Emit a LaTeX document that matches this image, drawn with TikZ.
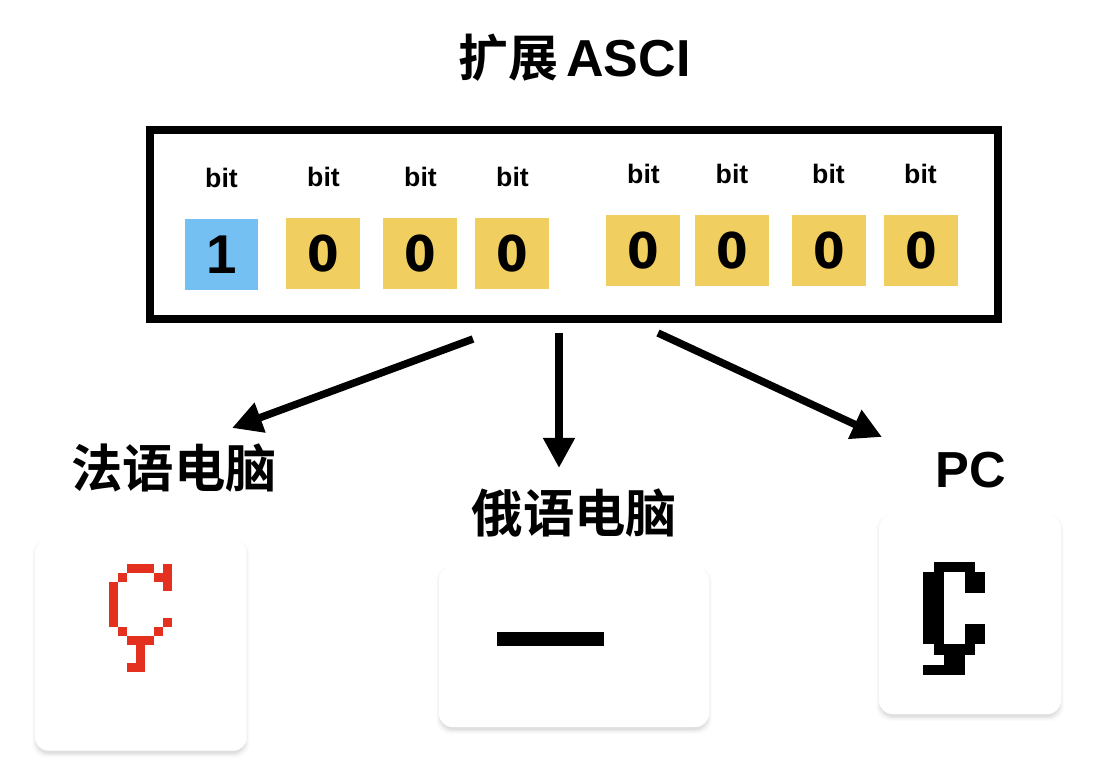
\documentclass[tikz,border=0pt]{standalone}
\usepackage{fontspec}
\setmainfont{Liberation Sans}
\newfontfamily\cjkbold{Noto Sans CJK SC Bold}
\newfontfamily\zerofont[FakeStretch=0.92]{DejaVu Sans Bold}
\usetikzlibrary{arrows.meta}
\definecolor{bitblue}{HTML}{74C0F2}
\definecolor{bityellow}{HTML}{F0CE5F}
\definecolor{glyphred}{HTML}{E3301F}
\tikzset{
  x=0.75pt,y=-0.75pt,
  frame/.style={draw=black,line width=6pt,fill=white},
  bitlabel/.style={font=\fontsize{20}{21}\selectfont\bfseries,text=black,inner sep=0pt,anchor=base},
  bluecell/.style={font=\fontsize{41}{42}\selectfont\bfseries,text=black,inner sep=0pt,minimum width=54.75pt,minimum height=53.25pt,fill=bitblue},
  yellowcell/.style={font=\fontsize{37}{40}\zerofont,text=black,inner sep=0pt,minimum width=55.5pt,minimum height=53.25pt,fill=bityellow},
  headtext/.style={font=\fontsize{37.5}{39}\cjkbold,text=black,inner sep=0pt,anchor=base},
  labeltext/.style={font=\fontsize{38.5}{40}\cjkbold,text=black,inner sep=0pt,anchor=base},
  latinhead/.style={font=\fontsize{39}{40}\selectfont\bfseries,text=black,inner sep=0pt,anchor=base},
  pchead/.style={font=\fontsize{38}{40}\selectfont\bfseries,text=black,inner sep=0pt,anchor=base},
  flow/.style={draw=black,line width=5.6pt,-{Triangle[length=22.5pt,width=22.5pt]}},
}
\newcommand{\cardbox}[4]{%
  \foreach \g/\o in {4/0.012,3/0.016,2/0.022,1/0.03,0/0.04}{
    \fill[black,opacity=\o,rounded corners=10pt] (#1-\g+1,#2+4-\g) rectangle (#3+\g-1,#4+3+\g);
  }
  \fill[white,rounded corners=10pt] (#1,#2) rectangle (#3,#4);
}
\newcommand{\redpx}[3]{\fill[glyphred] (109.3+#1*9,564.3+#2*9) rectangle (109.3+#1*9+#3*9,564.3+#2*9+9);}
\newcommand{\blkpx}[4]{\fill[black] (923.3+#1*10.33,561.7+#2*10.33) rectangle (923.3+#3*10.33,561.7+#4*10.33);}
\newcommand{\zdigit}{\raisebox{-1pt}{0}}
\begin{document}
\begin{tikzpicture}
\path[use as bounding box,fill=white] (0,0) rectangle (1096,766);

\node[headtext] (title) at (508,77) {扩展};
\node[latinhead,anchor=base west] (titleb) at (566,77) {ASCI};

\draw[frame] (150,130) rectangle (998,319);

\node[bluecell] (c1) at (221.5,254.5) {1};
\node[yellowcell] (c2) at (323,253.5) {\zdigit};
\node[yellowcell] (c3) at (420,253.5) {\zdigit};
\node[yellowcell] (c4) at (512,253.5) {\zdigit};
\node[yellowcell] (c5) at (643,250.5) {\zdigit};
\node[yellowcell] (c6) at (732,250.5) {\zdigit};
\node[yellowcell] (c7) at (829,250.5) {\zdigit};
\node[yellowcell] (c8) at (921,250.5) {\zdigit};

\node[bitlabel] (b1) at (221.5,188) {bit};
\node[bitlabel] (b2) at (323.5,187) {bit};
\node[bitlabel] (b3) at (420.5,187) {bit};
\node[bitlabel] (b4) at (512.5,187) {bit};
\node[bitlabel] (b5) at (643.5,184) {bit};
\node[bitlabel] (b6) at (732,184) {bit};
\node[bitlabel] (b7) at (828.5,184) {bit};
\node[bitlabel] (b8) at (920.5,184) {bit};

\node[labeltext] (fr) at (174,487) {法语电脑};
\node[labeltext] (ru) at (574.5,532) {俄语电脑};
\node[pchead] (pc) at (970.5,488) {PC};

\coordinate (s1) at (473,339);
\coordinate (s2) at (559,333);
\coordinate (s3) at (658,333);
\coordinate (t1) at (232,428);
\coordinate (t2) at (559,468);
\coordinate (t3) at (882,437);
\draw[flow] (s1) -- (t1);
\draw[flow] (s2) -- (t2);
\draw[flow] (s3) -- (t3);

\cardbox{35}{540}{246.7}{750.7}
\cardbox{439}{567}{709}{727}
\cardbox{879}{515}{1061}{714}

% red bitmap
\redpx{2}{0}{3}\redpx{6}{0}{1}
\redpx{1}{1}{1}\redpx{5}{1}{2}
\redpx{0}{2}{1}\redpx{6}{2}{1}
\redpx{0}{3}{1}\redpx{0}{4}{1}\redpx{0}{5}{1}
\redpx{0}{6}{1}\redpx{6}{6}{1}
\redpx{1}{7}{1}\redpx{5}{7}{1}
\redpx{2}{8}{3}
\redpx{3}{9}{1}\redpx{3}{10}{1}
\redpx{2}{11}{2}

% dash
\fill[black] (496.7,632.3) rectangle (604.3,645.7);

% black bitmap
\blkpx{1}{0}{5}{1}
\blkpx{0}{1}{2}{8}
\blkpx{4}{1}{6}{3}
\blkpx{4}{6}{6}{8}
\blkpx{1}{8}{5}{9}
\blkpx{2}{9}{4}{10}
\blkpx{0}{10}{4}{11}
\end{tikzpicture}
\end{document}
